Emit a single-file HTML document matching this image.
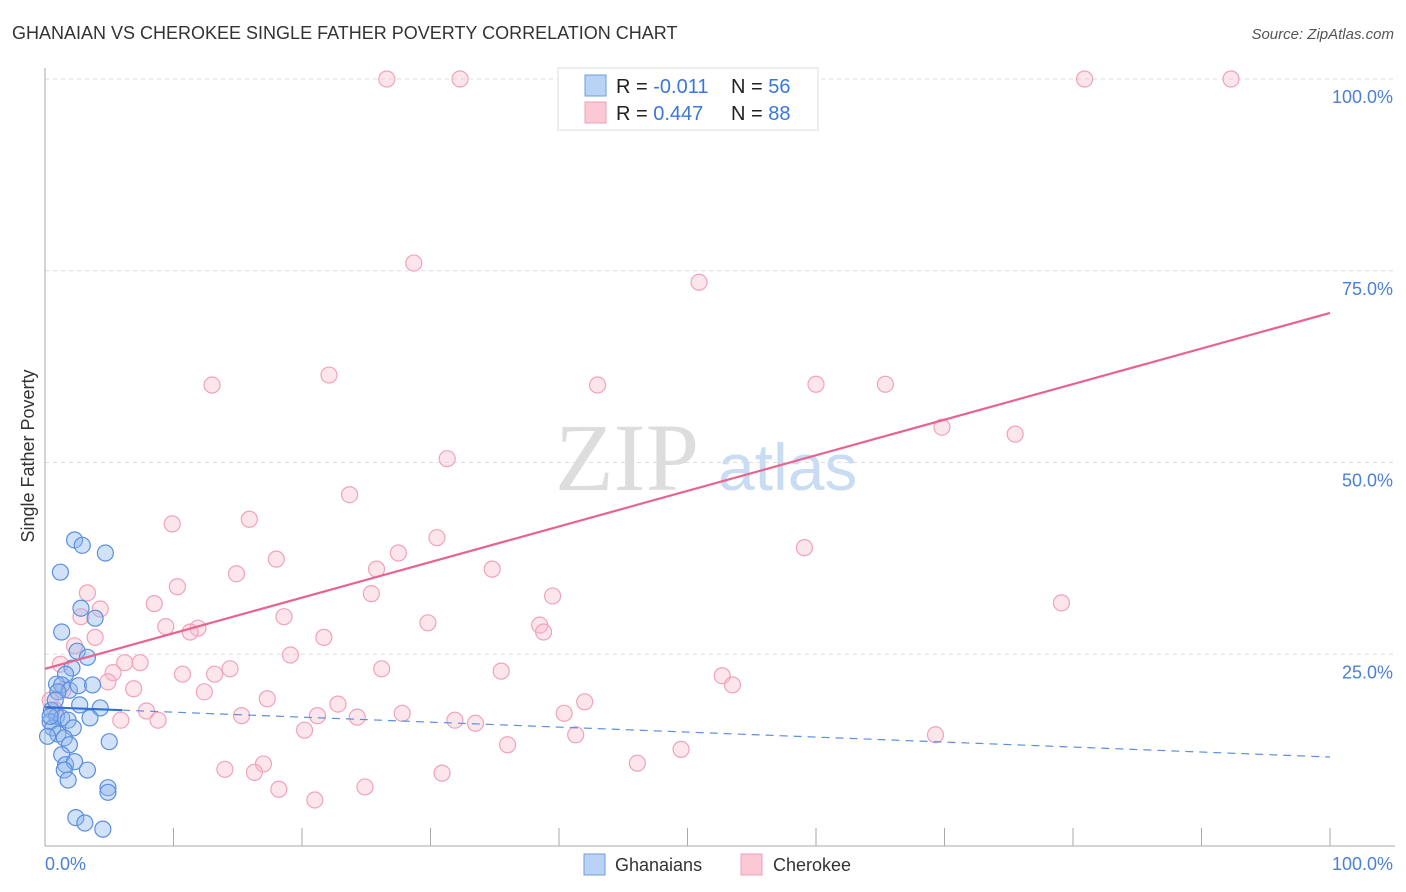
<!DOCTYPE html>
<html><head><meta charset="utf-8"><style>
body{margin:0;background:#fff;font-family:"Liberation Sans",sans-serif}
svg{display:block}
</style></head><body>
<svg id="chart" width="1406" height="892">
<text x="12" y="39" font-size="18" fill="#333">GHANAIAN VS CHEROKEE SINGLE FATHER POVERTY CORRELATION CHART</text>
<text x="1394" y="39" font-size="15" fill="#555" text-anchor="end" font-style="italic">Source: ZipAtlas.com</text>
<text x="555" y="490" font-size="96" fill="#ddd" font-family="Liberation Serif,serif">ZIP</text>
<text x="718" y="490" font-size="66" fill="#c8dcf3">atlas</text>
<g id="grid"></g><g id="axes"></g><g id="pts"></g><g id="trends"></g>
<text transform="translate(34,456) rotate(-90)" font-size="18" fill="#333" text-anchor="middle">Single Father Poverty</text>
<text x="45" y="870" font-size="18" fill="#4a80d8">0.0%</text>
<text x="1393" y="870" font-size="18" fill="#4a80d8" text-anchor="end">100.0%</text>
<g>
<rect x="558" y="68" width="260" height="62" fill="#fff" stroke="#ddd"/>
<rect x="585" y="75" width="21" height="21" fill="#b8d3f5" stroke="#6e9fe0"/>
<rect x="585" y="102" width="21" height="21" fill="#fbc8d6" stroke="#f0a0b8"/>
<text x="616" y="93" font-size="20" fill="#222">R = <tspan fill="#3a78d8">-0.011</tspan></text>
<text x="731" y="93" font-size="20" fill="#222">N = <tspan fill="#3a78d8">56</tspan></text>
<text x="616" y="120" font-size="20" fill="#222">R = <tspan fill="#3a78d8"> 0.447</tspan></text>
<text x="731" y="120" font-size="20" fill="#222">N = <tspan fill="#3a78d8">88</tspan></text>
</g>
<g>
<rect x="584" y="854" width="21" height="21" fill="#b8d3f5" stroke="#6e9fe0"/>
<text x="615" y="871" font-size="18" fill="#333">Ghanaians</text>
<rect x="741" y="854" width="21" height="21" fill="#fbc8d6" stroke="#f0a0b8"/>
<text x="773" y="871" font-size="18" fill="#333">Cherokee</text>
</g>
</svg>
<script>
const yTicks=[25,50,75,100];
const yTickLabels=["25.0%","50.0%","75.0%","100.0%"];
const xTicks=[0,10,20,30,40,50,60,70,80,90,100];
const pinkX=[26.6,32.3,51.9,80.9,92.3,47.5,28.7,50.9,13,22.1,43,60,65.4,69.8,75.5,31.3,23.7,9.9,15.9,30.5,27.5,59.1,18,14.9,25.8,34.8,10.3,25.4,39.5,79.1,3.3,8.5,4.3,18.6,2.8,9.4,11.9,11.3,29.8,38.5,38.8,21.7,3.9,2.3,19.1,1.2,6.2,7.4,5.3,10.7,13.2,14.4,26.2,35.5,52.7,53.5,4.9,6.9,12.4,17.3,42,22.8,7.9,27.8,40.4,15.3,21.2,24.3,5.9,8.8,31.9,33.5,20.2,41.3,69.3,36,49.5,17,46.1,14,16.3,30.9,18.2,24.9,21,0.4,0.8,1.4];
const pinkY=[100,100,100,100,100,96.9,76,73.5,60.1,61.4,60.1,60.2,60.2,54.6,53.7,50.5,45.8,42,42.6,40.2,38.2,38.9,37.4,35.5,36.1,36.1,33.8,32.9,32.6,31.7,33,31.6,30.9,29.9,29.9,28.6,28.4,27.9,29.1,28.8,27.9,27.2,27.2,26.1,24.9,23.7,23.9,23.9,22.6,22.4,22.4,23.1,23.1,22.8,22.2,21,21.4,20.5,20.1,19.2,18.8,18.5,17.6,17.3,17.3,17,17,16.8,16.4,16.4,16.4,16,15.1,14.5,14.5,13.2,12.6,10.7,10.8,10,9.6,9.5,7.4,7.7,6,19,17.7,20.3];
const blueX=[2.3,2.9,4.7,1.2,2.8,3.9,1.3,2.5,3.3,2.1,1.6,0.9,1.3,1.9,2.6,3.7,1,2.7,4.3,0.5,0.9,0.4,1.3,3.5,1.8,0.6,2.2,1,0.2,1.5,1.9,5,1.3,1.6,2.3,3.3,1.5,4.9,4.9,1.8,2.4,3.1,4.5,0.4,0.8];
const blueY=[39.9,39.2,38.2,35.7,31,29.7,27.9,25.4,24.6,23.2,22.4,21.1,21,20.3,20.9,21,20.1,18.4,18,17.7,16.9,16.2,16.7,16.7,16.4,15.4,15.4,14.6,14.3,14.1,13.2,13.6,11.9,10.6,11,9.9,9.9,7.6,7,8.6,3.7,3,2.2,16.9,19];
const pinkTrend=[23.1,69.5];
const blueTrend=[18.1,11.6];
const blueSolidEnd=6;
const NS="http://www.w3.org/2000/svg";
const X=v=>45+v*12.85, Y=v=>846-v*7.67;
function mk(t,a,p){const e=document.createElementNS(NS,t);for(const k in a)e.setAttribute(k,a[k]);p.appendChild(e);return e;}
const grid=document.getElementById('grid'),axes=document.getElementById('axes'),pts=document.getElementById('pts'),tr=document.getElementById('trends');
yTicks.forEach((v,i)=>{
 const l=mk('line',{x1:45,x2:1395,y1:Y(v),y2:Y(v),stroke:'#ddd','stroke-dasharray':'4,4'},grid);
 
 
 const t=mk('text',{x:1393,y:Y(v)+24,'font-size':18,fill:'#4a80d8','text-anchor':'end'},grid);
 t.textContent=yTickLabels[i];
 
 
});
const ya=mk('line',{x1:45,x2:45,y1:68,y2:846,stroke:'#aaa'},axes);


const xa=mk('line',{x1:45,x2:1395,y1:846,y2:846,stroke:'#aaa'},axes);


xTicks.forEach(v=>{
 const t=mk('line',{x1:X(v),x2:X(v),y1:828,y2:846,stroke:'#aaa'},axes);
 
 
});
pinkX.forEach((v,i)=>{
 const c=mk('circle',{cx:X(v),cy:Y(pinkY[i]),r:8,fill:'rgba(248,180,200,0.35)',stroke:'#f0a3bb','stroke-width':1.2},pts);
 
 
});
blueX.forEach((v,i)=>{
 const c=mk('circle',{cx:X(v),cy:Y(blueY[i]),r:8,fill:'rgba(140,180,235,0.4)',stroke:'#5b8fe0','stroke-width':1.2},pts);
 
 
});
const pl=mk('line',{x1:X(0),y1:Y(pinkTrend[0]),x2:X(100),y2:Y(pinkTrend[1]),stroke:'#e8648f','stroke-width':2.2},tr);


const bAt=x=>blueTrend[0]+(blueTrend[1]-blueTrend[0])*x/100;
const bs=mk('line',{x1:X(0),y1:Y(bAt(0)),x2:X(blueSolidEnd),y2:Y(bAt(blueSolidEnd)),stroke:'#2f6fd6','stroke-width':2.2},tr);


const bd=mk('line',{x1:X(blueSolidEnd),y1:Y(bAt(blueSolidEnd)),x2:X(100),y2:Y(bAt(100)),stroke:'#5b8fe0','stroke-width':1.2,'stroke-dasharray':'8,6'},tr);


</script>
</body></html>
